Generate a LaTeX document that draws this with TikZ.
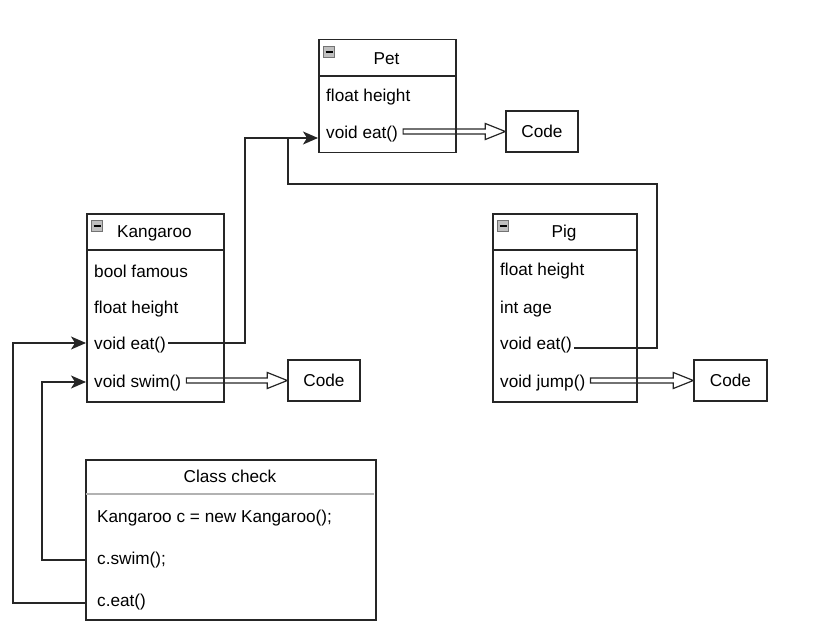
\documentclass[tikz,border=0pt]{standalone}
\usepackage{fontspec}
\setmainfont{Liberation Sans}
\usetikzlibrary{arrows.meta,calc}
\newcommand\hollowarrow[2]{%
  \draw[hollow] let \p1=(#1.east), \p2=(#2.west) in
    ({\x1+3pt},{\y2+2.5pt}) -- ({\x2-20pt},{\y2+2.5pt}) -- ({\x2-20pt},{\y2+8pt})
    -- (\x2,\y2) -- ({\x2-20pt},{\y2-8pt}) -- ({\x2-20pt},{\y2-2.5pt})
    -- ({\x1+3pt},{\y2-2.5pt}) -- cycle;}
\begin{document}
\begin{tikzpicture}[x=1pt,y=-1pt,
  font=\fontsize{17.2}{20}\selectfont,
  box/.style={draw=black!85, line width=1.5pt, anchor=north west, inner sep=0pt},
  codebox/.style={draw=black!85, line width=1.4pt, inner sep=0pt, minimum height=41pt},
  txt/.style={anchor=west, inner sep=2pt},
  ttl/.style={inner sep=2pt},
  sep/.style={draw=black!85, line width=1.4pt},
  conn/.style={draw=black!85, line width=1.3pt, -{Stealth[length=15pt,width=13pt,inset=4pt]}},
  plain/.style={draw=black!85, line width=1.3pt},
  hollow/.style={draw=black!85, line width=1.2pt, line join=miter},
  icon/.style={draw=black!55, fill=black!25, line width=0.6pt, minimum size=11pt, inner sep=0pt,
    path picture={\draw[black, line width=1.3pt] ([xshift=2pt]path picture bounding box.west) -- ([xshift=-2pt]path picture bounding box.east);}}
]
\useasboundingbox (0,0) rectangle (818,631);

% ---------- Pet ----------
\node[box, minimum width=137pt, minimum height=113pt] (pet) at (318,39) {};
\draw[sep] (318,76) -- (455,76);
\node[icon] (petIcon) at (329,52) {};
\node[ttl] (petTitle) at (386.5,59) {Pet};
\node[txt] (petHeight) at (324,97) {float height};
\node[txt] (petEat) at (324,134) {void eat()};
\node[codebox, minimum width=72pt] (codeP) at (542,131.5) {Code};

% ---------- Kangaroo ----------
\node[box, minimum width=137pt, minimum height=188pt] (kang) at (86,213) {};
\draw[sep] (86,250) -- (223,250);
\node[icon] (kangIcon) at (97,226) {};
\node[ttl] (kangTitle) at (154.5,233) {Kangaroo};
\node[txt] (kFamous) at (92,271) {bool famous};
\node[txt] (kHeight) at (92,309) {float height};
\node[txt] (kEat) at (92,345) {void eat()};
\node[txt] (kSwim) at (92,383) {void swim()};
\node[codebox, minimum width=72pt] (codeK) at (324,380.5) {Code};

% ---------- Pig ----------
\node[box, minimum width=144pt, minimum height=188pt] (pig) at (492,213) {};
\draw[sep] (492,250) -- (636,250);
\node[icon] (pigIcon) at (503,226) {};
\node[ttl] (pigTitle) at (564,233) {Pig};
\node[txt] (gHeight) at (498,271) {float height};
\node[txt] (gAge) at (498,309) {int age};
\node[txt] (gEat) at (498,345) {void eat()};
\node[txt] (gJump) at (498,383) {void jump()};
\node[codebox, minimum width=73pt] (codeG) at (730.5,380.5) {Code};

% ---------- Class check ----------
\node[box, minimum width=290pt, minimum height=160pt] (check) at (85,459) {};
\draw[draw=black!30, line width=1.8pt] (86,494) -- (374,494);
\node[ttl] (checkTitle) at (230,476) {Class check};
\node[txt] (cNew) at (95,518) {Kangaroo c = new Kangaroo();};
\node[txt] (cSwim) at (95,560) {c.swim();};
\node[txt] (cEat) at (95,602) {c.eat()};

% ---------- connectors ----------
\coordinate (petIn) at (318,138);
\draw[conn] ([yshift=2pt]kEat.east) -| (245,138) -- (petIn);
\draw[plain] ([yshift=-3pt]gEat.east) -| (657,184) -| (288,138);
\draw[conn] (85,560) -| (42,382) -- (kang.west |- 0,382);
\draw[conn] (85,603) -| (13,343) -- (kang.west |- 0,343);

\hollowarrow{petEat}{codeP}
\hollowarrow{kSwim}{codeK}
\hollowarrow{gJump}{codeG}
\end{tikzpicture}
\end{document}
